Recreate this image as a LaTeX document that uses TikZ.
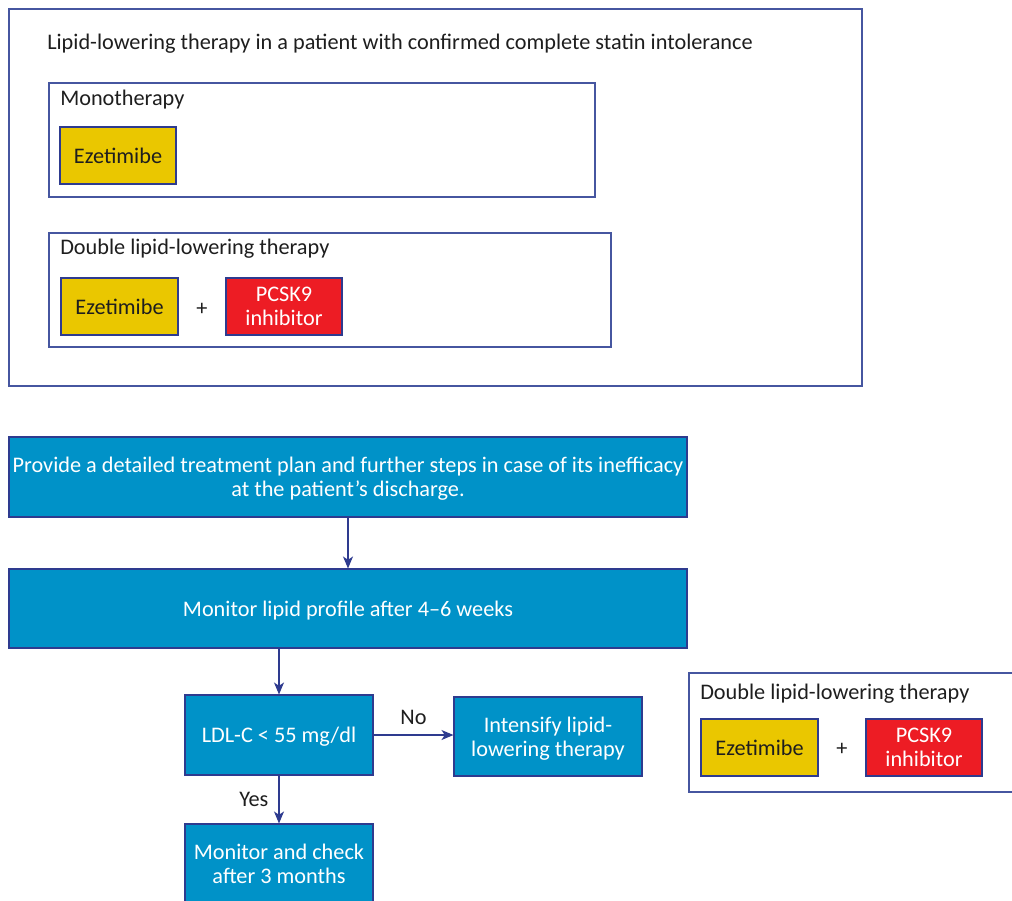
\documentclass[tikz,border=0pt]{standalone}
\usepackage{fontspec}
\setmainfont{Carlito}
\usetikzlibrary{arrows.meta}
\definecolor{navy}{RGB}{46,59,143}
\definecolor{frame}{RGB}{70,86,160}
\definecolor{flowblue}{RGB}{0,146,200}
\definecolor{ezeyellow}{RGB}{234,199,0}
\definecolor{pcskred}{RGB}{237,28,36}
\definecolor{ink}{RGB}{30,30,30}
\tikzset{
  txt/.style={font=\fontsize{16.7}{19}\selectfont, text=ink, inner sep=0pt},
  frm/.style={draw=frame, line width=0.9pt, fill=white, inner sep=0pt},
  drug/.style={draw=navy, line width=0.8pt, inner sep=0pt, align=center,
    text depth=0pt, font=\fontsize{16.7}{18}\selectfont},
  eze/.style={drug, fill=ezeyellow, text=ink},
  pcsk/.style={drug, fill=pcskred, text=white},
  flow/.style={draw=navy, line width=0.8pt, fill=flowblue, text=white, inner sep=0pt,
    align=center, text depth=0pt, font=\fontsize{16.7}{18}\selectfont},
  conn/.style={draw=navy, line width=0.9pt, -{Stealth[length=9pt,width=7.5pt,inset=2.5pt]}},
  sz/.style 2 args={minimum width=#1*0.75pt, minimum height=#2*0.75pt},
}
\begin{document}
\begin{tikzpicture}[x=0.75pt,y=-0.75pt]
\useasboundingbox (0,0) rectangle (1012,900);

% outer frame with the two therapy options
\node[frm, sz={853}{377}] (outer) at (435.5,197.5) {};
\node[txt, anchor=west] (title) at (47,44) {Lipid-lowering therapy in a patient with confirmed complete statin intolerance};

\node[frm, sz={546}{114}] (mono) at (322,140) {};
\node[txt, anchor=west] (monot) at (60,99.5) {Monotherapy};
\node[eze, sz={116}{57}] (eze1) at (118,155.5) {Ezetimibe};

\node[frm, sz={562}{114}] (dbl) at (330,290) {};
\node[txt, anchor=west] (dblt) at (60,248.5) {Double lipid-lowering therapy};
\node[eze, sz={117}{57}] (eze2) at (119.5,306.5) {Ezetimibe};
\node[txt] (plus1) at (202,309) {+};
\node[pcsk, sz={116}{57}] (pcsk1) at (284,306.5) {PCSK9\\inhibitor};

% flow chart
\node[flow, sz={678}{80}] (plan) at (348,477) {Provide a detailed treatment plan and further steps in case of its inefficacy\\at the patient’s discharge.};
\node[flow, sz={678}{79}] (lipid) at (348,608.5) {Monitor lipid profile after 4–6 weeks};
\node[flow, sz={188}{80}] (ldl) at (279,735) {LDL-C < 55 mg/dl};
\node[flow, sz={188}{79}] (intens) at (548,736.5) {Intensify lipid-\\lowering therapy};
\node[flow, sz={188}{80}] (check) at (279,864) {Monitor and check\\after 3 months};

\draw[conn] (plan.south) -- (lipid.north);
\draw[conn] (lipid.south -| ldl.north) -- (ldl.north);
\draw[conn] (ldl.east) -- (ldl.east -| intens.west) node[txt, midway, above=7pt] (no) {No};
\draw[conn] (ldl.south) -- (check.north) node[txt, midway, left=7.5pt] (yes) {Yes};

% double therapy reminder on the right
\node[frm, sz={332}{119}] (dbl2) at (855,732.5) {};
\node[txt, anchor=west] (dbl2t) at (700,693.5) {Double lipid-lowering therapy};
\node[eze, sz={117}{57}] (eze3) at (759.5,747.5) {Ezetimibe};
\node[txt] (plus2) at (842,749) {+};
\node[pcsk, sz={116}{57}] (pcsk2) at (924,747.5) {PCSK9\\inhibitor};
\end{tikzpicture}
\end{document}
